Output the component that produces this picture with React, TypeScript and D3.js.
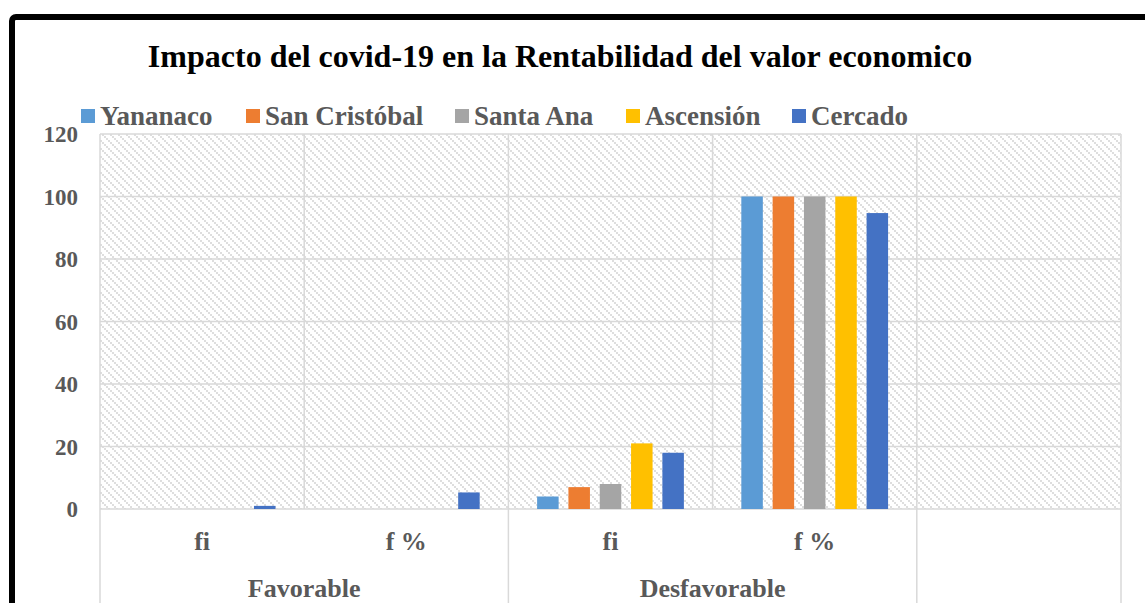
import React from "react";
import * as d3 from "d3";

const series = ["Yananaco", "San Cristóbal", "Santa Ana", "Ascensión", "Cercado"];
const colors = ["#5B9BD5", "#ED7D31", "#A5A5A5", "#FFC000", "#4472C4"];
const categories = ["Favorable|fi", "Favorable|f %", "Desfavorable|fi", "Desfavorable|f %", "|"];
const groups = ["Favorable", "Desfavorable", ""];
// one array per series, one value per category
const yananaco = [0, 0, 4, 100, null];
const sanCristobal = [0, 0, 7, 100, null];
const santaAna = [0, 0, 8, 100, null];
const ascension = [0, 0, 21, 100, null];
const cercado = [1, 5.3, 18, 94.7, null];
const yTicks = [0, 20, 40, 60, 80, 100, 120];

const values = [yananaco, sanCristobal, santaAna, ascension, cercado];

const W = 1145;
const H = 603;
const font = "'Liberation Serif', 'Times New Roman', 'DejaVu Serif', serif";
const grey = "#595959";
const gridColor = "#d9d9d9";

export default function App() {
  const left = 100;
  const right = 1121;
  const top = 134;
  const bottom = 509;

  const x0 = d3.scaleBand<string>().domain(categories).range([left, right]).padding(0);
  const x1 = d3
    .scaleBand<string>()
    .domain(series)
    .range([0, x0.bandwidth()])
    .paddingInner(0.313)
    .paddingOuter(0.917);
  const y = d3.scaleLinear().domain([0, 120]).range([bottom, top]);

  // legend x positions (square left edge)
  const legendX = [81, 246, 455, 626, 792];

  // boundaries below the axis: group edges
  const groupEdges: number[] = [];
  categories.forEach((c, i) => {
    const g = c.split("|")[0];
    const prev = i > 0 ? categories[i - 1].split("|")[0] : null;
    if (g !== prev) groupEdges.push(x0(c)!);
  });
  groupEdges.push(right);

  const groupCenters = groups.map((g) => {
    const cats = categories.filter((c) => c.split("|")[0] === g);
    const a = x0(cats[0])!;
    const b = x0(cats[cats.length - 1])! + x0.bandwidth();
    return (a + b) / 2;
  });

  const txt = { fontFamily: font, fontWeight: 700 } as React.CSSProperties;

  return (
    <svg
      width={W}
      height={H}
      style={{ position: "absolute", left: 0, top: 0, background: "#fff" }}
    >
      <defs>
        <pattern id="hatch" width="8" height="8" patternUnits="userSpaceOnUse">
          <rect width="8" height="8" fill="#fff" />
          <rect x="0" y="0" width="2" height="2" fill="#dedede" />
          <rect x="2" y="2" width="2" height="2" fill="#dedede" />
          <rect x="4" y="4" width="2" height="2" fill="#dedede" />
          <rect x="6" y="6" width="2" height="2" fill="#dedede" />
        </pattern>
      </defs>

      <rect x={12} y={17} width={1180} height={640} rx={4} fill="#fff" stroke="#000" strokeWidth={6} />

      <text x={560} y={67} textAnchor="middle" style={{ ...txt, fontSize: 32 }} fill="#000">
        Impacto del covid-19 en la Rentabilidad del valor economico
      </text>

      {series.map((s, i) => (
        <g key={s}>
          <rect x={legendX[i]} y={109} width={14} height={14} fill={colors[i]} />
          <text x={legendX[i] + 19} y={125} style={{ ...txt, fontSize: 27 }} fill={grey}>
            {s}
          </text>
        </g>
      ))}

      <rect x={left} y={top} width={right - left} height={bottom - top} fill="url(#hatch)" />

      {yTicks.map((t) => (
        <g key={t}>
          <line x1={left} x2={right} y1={y(t)} y2={y(t)} stroke={gridColor} strokeWidth={1.5} />
          <text x={78} y={y(t) + 8} textAnchor="end" style={{ ...txt, fontSize: 23 }} fill={grey}>
            {t}
          </text>
        </g>
      ))}

      {categories.map((c) => (
        <line
          key={"v" + c}
          x1={x0(c)!}
          x2={x0(c)!}
          y1={top}
          y2={bottom}
          stroke={gridColor}
          strokeWidth={1.5}
        />
      ))}
      <line x1={right} x2={right} y1={top} y2={bottom} stroke={gridColor} strokeWidth={1.5} />

      {groupEdges.map((gx, i) => (
        <line key={"g" + i} x1={gx} x2={gx} y1={bottom} y2={H} stroke={gridColor} strokeWidth={1.5} />
      ))}

      {categories.map((c, ci) =>
        series.map((s, si) => {
          const v = values[si][ci];
          if (v == null) return null;
          return (
            <rect
              key={c + s}
              x={x0(c)! + x1(s)!}
              y={y(v)}
              width={x1.bandwidth()}
              height={bottom - y(v)}
              fill={colors[si]}
            />
          );
        })
      )}

      {categories.map((c) => (
        <text
          key={"l" + c}
          x={x0(c)! + x0.bandwidth() / 2}
          y={550}
          textAnchor="middle"
          style={{ ...txt, fontSize: 26 }}
          fill={grey}
        >
          {c.split("|")[1]}
        </text>
      ))}

      {groups.map((g, i) => (
        <text
          key={"gl" + i}
          x={groupCenters[i]}
          y={597}
          textAnchor="middle"
          style={{ ...txt, fontSize: 26 }}
          fill={grey}
        >
          {g}
        </text>
      ))}
    </svg>
  );
}
